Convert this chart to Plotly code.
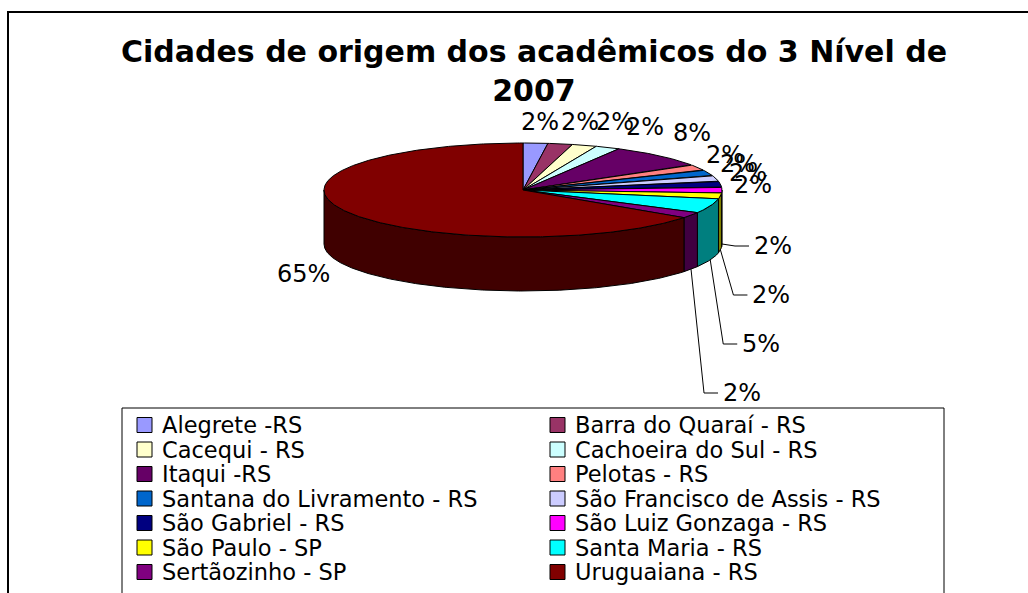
import numpy as np
import plotly.graph_objects as go

# ---------------- data ----------------
cities = ["Alegrete -RS", "Barra do Quaraí - RS", "Cacequi - RS", "Cachoeira do Sul - RS",
          "Itaqui -RS", "Pelotas - RS", "Santana do Livramento - RS", "São Francisco de Assis - RS",
          "São Gabriel - RS", "São Luiz Gonzaga - RS", "São Paulo - SP", "Santa Maria - RS",
          "Sertãozinho - SP", "Uruguaiana - RS"]
shares = [2, 2, 2, 2, 8, 2, 2, 2, 2, 2, 2, 5, 2, 65]
colors = ["#9999FF", "#993366", "#FFFFCC", "#CCFFFF", "#660066", "#FF8080", "#0066CC",
          "#CCCCFF", "#000080", "#FF00FF", "#FFFF00", "#00FFFF", "#800080", "#800000"]
title_text = "Cidades de origem dos acadêmicos do 3 Nível de<br>2007"

# ---------------- style / layout constants ----------------
W, H = 1028, 593
CX, CY, RX, RY, DEPTH = 523, 190, 199, 47, 54      # pseudo-3D pie geometry (pixels)
LA, LB = 232, 70                                     # label ellipse radii
FONT = "DejaVu Sans, Arial, sans-serif"
LABEL_SIZE = 24
LEGEND_SIZE = 22.5
# per-label nudges (dx, dy) in pixels, style only
label_nudge = [(2, 2), (14, 1), (20, -1), (23, 0), (10, -6), (-1, -1), (0, 0), (0, 0),
               (0, 4), (0, 0), (0, 0), (0, 0), (0, 0), (-13, -4)]

total = float(sum(shares))
cum = np.concatenate([[0.0], np.cumsum(shares)]) / total * 360.0


def ell(theta_deg, dy=0.0, rx=RX, ry=RY):
    t = np.radians(theta_deg)
    return CX + rx * np.sin(t), CY - ry * np.cos(t) + dy


def darker(hexcol, f=0.5):
    h = hexcol.lstrip("#")
    r, g, b = (int(h[i:i + 2], 16) for i in (0, 2, 4))
    return "#%02x%02x%02x" % (int(r * f), int(g * f), int(b * f))


fig = go.Figure()

# side walls (front half only)
for i, (a0, a1) in enumerate(zip(cum[:-1], cum[1:])):
    lo, hi = max(a0, 90.0), min(a1, 270.0)
    if hi <= lo:
        continue
    th = np.linspace(lo, hi, max(3, int((hi - lo) * 2) + 2))
    xt, yt = ell(th)
    xb, yb = ell(th[::-1], DEPTH)
    xs = np.concatenate([xt, xb, xt[:1]])
    ys = np.concatenate([yt, yb, yt[:1]])
    fig.add_trace(go.Scatter(x=xs, y=ys, mode="lines", fill="toself",
                             fillcolor=darker(colors[i]),
                             line=dict(color="black", width=1),
                             hoverinfo="skip", showlegend=False))

# top faces
for i, (a0, a1) in enumerate(zip(cum[:-1], cum[1:])):
    th = np.linspace(a0, a1, max(3, int((a1 - a0) * 2) + 2))
    xa, ya = ell(th)
    xs = np.concatenate([[CX], xa, [CX]])
    ys = np.concatenate([[CY], ya, [CY]])
    fig.add_trace(go.Scatter(x=xs, y=ys, mode="lines", fill="toself",
                             fillcolor=colors[i], name=cities[i],
                             line=dict(color="black", width=1),
                             hoverinfo="skip", showlegend=False))

# percentage labels
annotations = []
prev_y = None
for i, (a0, a1) in enumerate(zip(cum[:-1], cum[1:])):
    mid = (a0 + a1) / 2.0
    s, c = np.sin(np.radians(mid)), np.cos(np.radians(mid))
    txt = "%d%%" % round(shares[i] / total * 100)
    front = c <= 1e-6
    nx, ny = CX + LA * s, CY - LB * c + (DEPTH + 2 if front else 0)
    if front and s > 0:
        # right-front labels are stacked downward with leader lines
        y = ny if prev_y is None else max(ny, prev_y + 49)
        prev_y = y
        sx, sy = ell(mid, DEPTH)
        fig.add_trace(go.Scatter(x=[sx, sx + 13, sx + 27], y=[sy, y, y], mode="lines",
                                 line=dict(color="black", width=1),
                                 hoverinfo="skip", showlegend=False))
        annotations.append(dict(x=sx + 30, y=y, xref="x", yref="y", text=txt,
                                showarrow=False, xanchor="left", yanchor="middle",
                                font=dict(family=FONT, size=LABEL_SIZE, color="black")))
    else:
        dx, dy = label_nudge[i]
        annotations.append(dict(x=nx + dx, y=ny + dy, xref="x", yref="y", text=txt,
                                showarrow=False, xanchor="center", yanchor="middle",
                                font=dict(family=FONT, size=LABEL_SIZE, color="black")))

# legend (two columns, row-major order)
shapes = [
    dict(type="rect", xref="x", yref="y", x0=8, y0=12, x1=W + 20, y1=H + 20,
         line=dict(color="black", width=2), fillcolor="rgba(0,0,0,0)", layer="below"),
    dict(type="rect", xref="x", yref="y", x0=122, y0=408, x1=944, y1=H + 20,
         line=dict(color="black", width=1), fillcolor="rgba(0,0,0,0)"),
]
LEG_X = [137, 550]
LEG_Y0, LEG_DY, SW = 425, 24.5, 15
for i, name in enumerate(cities):
    col, row = i % 2, i // 2
    x0 = LEG_X[col]
    yc = LEG_Y0 + row * LEG_DY
    shapes.append(dict(type="rect", xref="x", yref="y", x0=x0, x1=x0 + SW,
                       y0=yc - SW / 2, y1=yc + SW / 2, fillcolor=colors[i],
                       line=dict(color="black", width=1)))
    annotations.append(dict(x=x0 + 23, y=yc, xref="x", yref="y", text=name,
                            showarrow=False, xanchor="left", yanchor="middle",
                            font=dict(family=FONT, size=LEGEND_SIZE, color="black")))

fig.update_layout(
    width=W, height=H, autosize=False,
    margin=dict(l=0, r=0, t=0, b=0, pad=0),
    paper_bgcolor="white", plot_bgcolor="white",
    title=dict(text=title_text, x=534 / W, xanchor="center", y=1 - 62 / H, yanchor="top",
               yref="container",
               font=dict(family=FONT, size=30, color="black", weight="bold")),
    xaxis=dict(range=[0, W], visible=False, fixedrange=True),
    yaxis=dict(range=[H, 0], visible=False, fixedrange=True),
    showlegend=False, hovermode=False,
    shapes=shapes, annotations=annotations,
)

fig.write_html("out.html", config={"displayModeBar": False, "staticPlot": True},
               post_script="document.body.style.margin='0';document.body.style.overflow='hidden';")
